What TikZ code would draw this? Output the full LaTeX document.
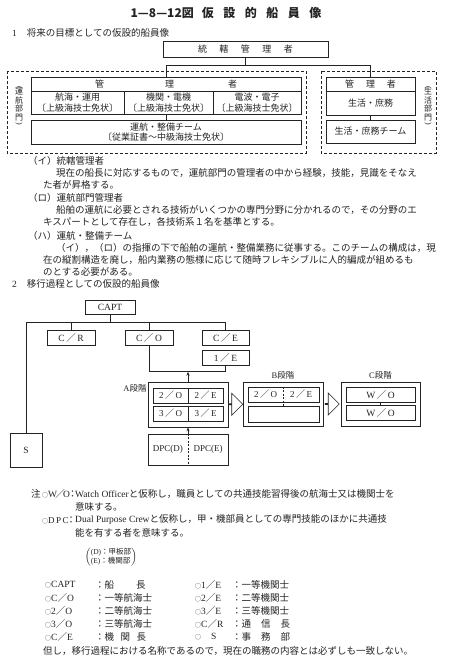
\documentclass[tikz,border=0pt]{standalone}
\usepackage{fontspec}
\setmainfont{Liberation Serif}
\newfontfamily\jp{Noto Sans CJK JP}
\usepackage{xcolor}
\usepackage{tikz}
\usetikzlibrary{positioning, calc, shapes.arrows, arrows.meta}
\definecolor{inkgray}{RGB}{35, 35, 35}
\newcommand\lat[1]{{\rmfamily #1}}
\newcommand\keyring{{\fontsize{6}{6}\selectfont ○}}
\newcommand\keyslash{\makebox[6pt][c]{／}}
\newcommand\keycolon{\makebox[5pt][c]{：}}
\newcommand\vopen{\rotatebox[origin=c]{-90}{\lat{(}}}
\newcommand\vclose{\rotatebox[origin=c]{-90}{\lat{)}}}

\tikzset{
    orgbox/.style={draw=inkgray, line width=0.6pt, inner sep=0pt, align=center,
                   font=\jp\fontsize{9}{10.5}\selectfont, text=inkgray},
    deptframe/.style={draw=inkgray, line width=0.6pt, dash pattern=on 3pt off 2pt},
    deptlabel/.style={inner sep=0pt, align=center, font=\jp\fontsize{8}{8.5}\selectfont, text=inkgray},
    note/.style={anchor=west, inner sep=0pt, font=\jp\fontsize{9.5}{11}\selectfont, text=inkgray},
    rolebox/.style={draw=inkgray, line width=0.6pt, inner sep=0pt,
                    font=\fontsize{9.5}{10}\selectfont, text=inkgray},
    roletext/.style={inner sep=0pt, font=\fontsize{9}{10}\selectfont, text=inkgray},
    stagelabel/.style={inner sep=0pt, font=\jp\fontsize{8.5}{10}\selectfont, text=inkgray},
    hollow/.style={single arrow, draw=inkgray, line width=0.6pt, inner sep=0pt,
                   minimum height=14pt, minimum width=22pt, single arrow head extend=6pt},
    link/.style={draw=inkgray, line width=0.6pt},
}

\begin{document}
\begin{tikzpicture}[x=1pt, y=-1pt]
    \fill[white] (0,0) rectangle (472,669);
    \useasboundingbox (0,0) rectangle (472,669);

    \node[font=\jp\bfseries\fontsize{12}{14}\selectfont, text=inkgray] (title) at (226,13)
        {1—8—12図\hspace{8pt}仮\hspace{9.5pt}設\hspace{9.5pt}的\hspace{9.5pt}船\hspace{9.5pt}員\hspace{9.5pt}像};
    \node[note] (partOne) at (12,33) {\lat{1}\hspace{10pt}将来の目標としての仮設的船員像};

    % future crew
    \node[orgbox, minimum width=165, minimum height=16] (top) at (245.5,49)
        {統\hspace{12.5pt}轄\hspace{12.5pt}管\hspace{12.5pt}理\hspace{12.5pt}者};
    \draw[deptframe] (7,71) rectangle (306,153);
    \draw[deptframe] (321,71) rectangle (436,153);
    \node[orgbox, minimum width=270, minimum height=14] (mgrL) at (166,84)
        {管\hspace{61pt}理\hspace{54pt}者};
    \node[orgbox, minimum width=93, minimum height=23] (nav) at (77.5,102.5) {航海・運用\\〔上級海技士免状〕};
    \node[orgbox, minimum width=89, minimum height=23] (eng) at (168.5,102.5) {機関・電機\\〔上級海技士免状〕};
    \node[orgbox, minimum width=88, minimum height=23] (elec) at (257,102.5) {電波・電子\\〔上級海技士免状〕};
    \node[orgbox, minimum width=270, minimum height=24] (team) at (166,132)
        {運航・整備チーム\\〔従業証書～中級海技士免状〕};
    \node[orgbox, minimum width=89, minimum height=14] (mgrR) at (370.5,84) {管\hspace{12pt}理\hspace{12pt}者};
    \node[orgbox, minimum width=89, minimum height=24] (life) at (370.5,103) {生活・庶務};
    \node[orgbox, minimum width=89, minimum height=23] (lifeTeam) at (370.5,131.5) {生活・庶務チーム};
    \node[deptlabel] (opsLabel) at (19,106) {\vopen\\[-3pt]運\\航\\部\\門\\[-3pt]\vclose};
    \node[deptlabel] (lifeLabel) at (428,106) {\vopen\\[-3pt]生\\活\\部\\門\\[-3pt]\vclose};
    \draw[link] (top.south) -- ++(0,8) coordinate (topJoin);
    \draw[link] (mgrL.north) |- (topJoin) -| (mgrR.north);
    \draw[link] (team.north) -- (team.north |- eng.south);
    \draw[link] (lifeTeam.north) -- (lifeTeam.north |- life.south);

    \node[note] (noteA) at (28,161) {（イ）統轄管理者};
    \node[note] (noteA1) at (56,173) {現在の船長に対応するもので，運航部門の管理者の中から経験，技能，見識をそなえ};
    \node[note] (noteA2) at (43,185) {た者が昇格する。};
    \node[note] (noteB) at (28,198) {（ロ）運航部門管理者};
    \node[note] (noteB1) at (56,210) {船舶の運航に必要とされる技術がいくつかの専門分野に分かれるので，その分野のエ};
    \node[note] (noteB2) at (43,222) {キスパートとして存在し，各技術系１名を基準とする。};
    \node[note] (noteC) at (28,236) {（ハ）運航・整備チーム};
    \node[note] (noteC1) at (56,248) {（イ），（ロ）の指揮の下で船舶の運航・整備業務に従事する。このチームの構成は，現};
    \node[note] (noteC2) at (43,260) {在の縦割構造を廃し，船内業務の態様に応じて随時フレキシブルに人的編成が組めるも};
    \node[note] (noteC3) at (43,272) {のとする必要がある。};

    \node[note] (partTwo) at (12,284) {\lat{2}\hspace{10pt}移行過程としての仮設的船員像};

    % transition
    \node[rolebox, minimum width=50, minimum height=14] (capt) at (110,307) {CAPT};
    \node[rolebox, minimum width=48, minimum height=15] (cr) at (71,337.5) {C\,{\jp ／}\,R};
    \node[rolebox, minimum width=48, minimum height=15] (co) at (149,337.5) {C\,{\jp ／}\,O};
    \node[rolebox, minimum width=47, minimum height=15] (ce) at (225.5,337.5) {C\,{\jp ／}\,E};
    \node[rolebox, minimum width=47, minimum height=15] (oe) at (225.5,357.5) {1\,{\jp ／}\,E};
    \node[rolebox, minimum width=32, minimum height=34] (s) at (26,450) {S};
    \draw[link] (capt.south) -- ++(0,8) coordinate (bus);
    \draw[link] (s.north) |- (bus) -| (ce.north);
    \draw[link] (cr.north) -- (cr.north |- bus);
    \draw[link] (co.north) -- (co.north |- bus);

    \node[rolebox, minimum width=80, minimum height=45] (aStage) at (188,404.5) {};
    \node[stagelabel, anchor=north east] (aLabel) at ([xshift=-1pt, yshift=-2pt]aStage.north west) {\lat{A}段階};
    \node[rolebox, minimum width=70, minimum height=15] (aRowTwo) at (188,395.5) {};
    \node[rolebox, minimum width=70, minimum height=15] (aRowThree) at (188,413.5) {};
    \draw[link] (aRowTwo.north) -- (aRowTwo.south);
    \draw[link] (aRowThree.north) -- (aRowThree.south);
    \node[roletext] (a2o) at (170.5,395.5) {2\,{\jp ／}\,O};
    \node[roletext] (a2e) at (205.5,395.5) {2\,{\jp ／}\,E};
    \node[roletext] (a3o) at (170.5,413.5) {3\,{\jp ／}\,O};
    \node[roletext] (a3e) at (205.5,413.5) {3\,{\jp ／}\,E};
    \coordinate (loop) at ([yshift=10pt]aStage.north);
    \draw[link] (co.south) |- (loop) -| (oe.south);
    \draw[link, -{Stealth[length=4pt, width=3pt]}] (aStage.north) -- (loop);

    \node[rolebox, minimum width=80, minimum height=31] (dpc) at (188,449.5) {};
    \node[roletext] (dpcD) at ($(dpc.center)!0.5!(dpc.west)$) {DPC(D)};
    \node[roletext] (dpcE) at ($(dpc.center)!0.5!(dpc.east)$) {DPC(E)};
    \draw[link, dash pattern=on 2pt off 1.5pt] (dpc.north) -- (dpc.south);
    \draw[link, -{Stealth[length=4pt, width=3pt]}] (dpc.north) -- (aStage.south);

    \node[rolebox, minimum width=80, minimum height=44] (bStage) at (283,404) {};
    \node[stagelabel, anchor=south] (bLabel) at ([yshift=2pt]bStage.north) {\lat{B}段階};
    \node[rolebox, minimum width=71, minimum height=15] (bRowTwo) at (283.5,394.5) {};
    \node[rolebox, minimum width=71, minimum height=16] (bEmpty) at (283.5,414) {};
    \node[roletext] (b2o) at (265.5,394.5) {2\,{\jp ／}\,O};
    \node[roletext] (b2e) at (301,394.5) {2\,{\jp ／}\,E};
    \draw[link, dash pattern=on 2pt off 1.5pt] (bRowTwo.north) -- (bRowTwo.north |- bEmpty.north);

    \node[rolebox, minimum width=79, minimum height=44] (cStage) at (380.5,404) {};
    \node[stagelabel, anchor=south] (cLabel) at ([yshift=2pt]cStage.north) {\lat{C}段階};
    \node[rolebox, minimum width=69, minimum height=15] (cOne) at (380.5,394.5) {W\,{\jp ／}\,O};
    \node[rolebox, minimum width=69, minimum height=15] (cTwo) at (380.5,412.5) {W\,{\jp ／}\,O};
    \draw[link] (cOne.south) -- (cTwo.north);

    \node[hollow] (ab) at ($(aStage.east)!0.5!(bStage.west)$) {};
    \node[hollow] (bc) at ($(bStage.east)!0.5!(cStage.west)$) {};

    % notes
    \node[note] (chu) at (31,494) {注};
    \node[note] (woKey) at (42,494) {\keyring\lat{W}\keyslash\lat{O}\keycolon};
    \node[note] (wo1) at (75,494) {\lat{Watch Officer}と仮称し，職員としての共通技能習得後の航海士又は機関士を};
    \node[note] (wo2) at (75,507) {意味する。};
    \node[note] (dpcKey) at (42,520) {\keyring\lat{\fontsize{9}{10}\selectfont D\,P\,C}\keycolon};
    \node[note] (dpc1) at (75,520) {\lat{Dual Purpose Crew}と仮称し，甲・機部員としての専門技能のほかに共通技};
    \node[note] (dpc2) at (75,533) {能を有する者を意味する。};
    \node[note, anchor=center, font=\jp\fontsize{7.5}{9.5}\selectfont] (deptKey) at (111,557)
        {$\delimitershortfall=4pt\left(\begin{tabular}{@{}l@{}}\lat{(D)}：甲板部\\\lat{(E)}：機関部\end{tabular}\right)$};

    \foreach \y/\ra/\da/\rb/\db [count=\i] in {
        585/{\lat{CAPT}}/{船\hspace{22pt}長}/{\lat{1}／\lat{E}}/{一等機関士},
        598/{\lat{C}／\lat{O}}/{一等航海士}/{\lat{2}／\lat{E}}/{二等機関士},
        611/{\lat{2}／\lat{O}}/{二等航海士}/{\lat{3}／\lat{E}}/{三等機関士},
        624/{\lat{3}／\lat{O}}/{三等航海士}/{\lat{C}／\lat{R}}/{通\hspace{10pt}信\hspace{10pt}長},
        637/{\lat{C}／\lat{E}}/{機\hspace{6.5pt}関\hspace{6.5pt}長}/{\hspace{10pt}\lat{S}}/{事\hspace{10pt}務\hspace{10pt}部}} {
        \node[note] (roleA\i) at (45,\y) {\keyring\ra};
        \node[note] (dutyA\i) at (95,\y) {：\da};
        \node[note] (roleB\i) at (195,\y) {\keyring\rb};
        \node[note] (dutyB\i) at (232,\y) {：\db};
    }
    \node[note] (caveat) at (43,651) {但し，移行過程における名称であるので，現在の職務の内容とは必ずしも一致しない。};
\end{tikzpicture}
\end{document}
